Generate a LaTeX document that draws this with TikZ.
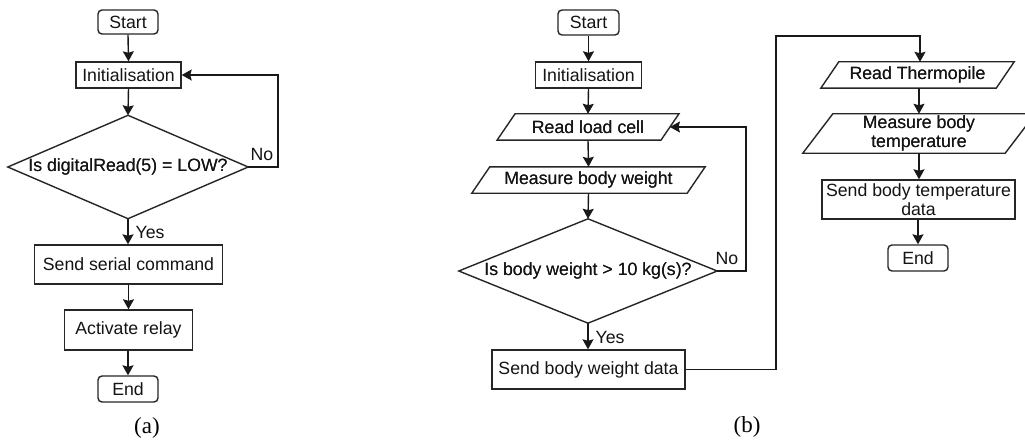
\documentclass[tikz,border=0pt]{standalone}
\usepackage{fontspec}
\setmainfont{Liberation Sans}
\newfontfamily\capfont{Liberation Serif}
\usetikzlibrary{arrows.meta,calc}

\tikzset{
  box/.style={draw=black!85, line width=1.4pt, fill=white, inner sep=0pt,
    text=black!92, font=\fontsize{17.7}{19.5}\selectfont, align=center},
  term/.style={box, rounded corners=4pt},
  hidden/.style={inner sep=0pt, text=black!92,
    font=\fontsize{17.7}{19.5}\selectfont, align=center},
  outline/.style={draw=black!85, line width=1.4pt, line join=miter},
  flow/.style={draw=black!90, line width=1.4pt,
    -{Stealth[length=10pt,width=11pt,inset=1.5pt]}},
  lbl/.style={inner sep=0pt, text=black!92, font=\fontsize{17.7}{19.5}\selectfont},
  caption/.style={inner sep=0pt, font=\capfont\fontsize{23}{25}\selectfont},
}

% parallelogram around a hidden node: #1 node name, #2 horizontal slant
\newcommand\iobox[2]{%
  \draw[outline] ($(#1.north west)+(#2/2,0)$) -- ($(#1.north east)+(#2/2,0)$)
    -- ($(#1.south east)-(#2/2,0)$) -- ($(#1.south west)-(#2/2,0)$) -- cycle;}
% diamond around a hidden node
\newcommand\decision[1]{%
  \draw[outline] (#1.north) -- (#1.east) -- (#1.south) -- (#1.west) -- cycle;}

\begin{document}
\begin{tikzpicture}[x=1pt, y=-1pt]
\useasboundingbox (0,0) rectangle (1025,441);
\clip (0,0) rectangle (1025,441);
\fill[white] (0,0) rectangle (1025,441);

% ---------------- (a) ----------------
\node[term, minimum width=60pt, minimum height=24pt] (a1) at (128,22) {Start};
\node[box, minimum width=105pt, minimum height=26pt] (a2) at (128.5,75) {Initialisation};
\node[hidden, minimum width=240pt, minimum height=103pt] (a3) at (128,167) {Is digitalRead(5) = LOW?};
\decision{a3}
\node[hidden] at (a3) {Is digitalRead(5) = LOW?};
\node[box, minimum width=188pt, minimum height=39pt] (a4) at (128.5,264.5) {Send serial command};
\node[box, minimum width=128pt, minimum height=40pt] (a5) at (128.5,330) {Activate relay};
\node[term, minimum width=60pt, minimum height=26pt] (a6) at (128,389) {End};

\draw[flow] (a1.south) -- (a2.north);
\draw[flow] (a2.south) -- (a3.north);
\draw[flow] (a3.south) -- (a4.north -| a3.south);
\draw[flow] (a4.south -| a5.north) -- (a5.north);
\draw[flow] (a5.south -| a6.north) -- (a6.north);
\coordinate (na) at (278,167);
\draw[flow] (a3.east) -- (na) |- (a2.east);
\node[lbl] (ano) at (262,154) {No};
\node[lbl] (ayes) at (150,232) {Yes};
\node[caption] (capa) at (147,428) {(a)};

% ---------------- (b) ----------------
\node[term, minimum width=61pt, minimum height=25pt] (b1) at (588.5,22.5) {Start};
\node[box, minimum width=106pt, minimum height=26pt] (b2) at (588.5,75) {Initialisation};
\node[hidden, minimum width=163.5pt, minimum height=26pt] (b3) at (588,127) {Read load cell};
\iobox{b3}{18}
\node[hidden] at (b3) {Read load cell};
\node[hidden, minimum width=215pt, minimum height=26pt] (b4) at (588.5,180) {Measure body weight};
\iobox{b4}{18}
\node[hidden] at (b4) {Measure body weight};
\node[hidden, minimum width=258pt, minimum height=104pt] (b5) at (588,271) {Is body weight > 10 kg(s)?};
\decision{b5}
\node[hidden] at (b5) {Is body weight > 10 kg(s)?};
\node[box, minimum width=193pt, minimum height=39pt] (b6) at (588.5,369.5) {Send body weight data};

\node[hidden, minimum width=175pt, minimum height=26pt] (b7) at (917.5,75) {Read Thermopile};
\iobox{b7}{18}
\node[hidden] at (b7) {Read Thermopile};
\node[hidden, minimum width=202pt, minimum height=39pt] (b8) at (919,133.5) {Measure body\\temperature};
\iobox{b8}{30}
\node[hidden] at (b8) {Measure body\\temperature};
\node[box, minimum width=193pt, minimum height=39pt] (b9) at (918.5,199.5) {Send body temperature\\data};
\node[term, minimum width=60pt, minimum height=26pt] (b10) at (918,258) {End};

\draw[flow] (b1.south) -- (b2.north);
\draw[flow] (b2.south) -- (b3.north);
\draw[flow] (b3.south) -- (b4.north);
\draw[flow] (b4.south) -- (b5.north);
\draw[flow] (b5.south) -- (b6.north -| b5.south);
\coordinate (nb) at (746,271);
\draw[flow] (b5.east) -- (nb) |- (b3.east);
\coordinate (jb) at (776,36);
\coordinate (tb) at (920,36);
\draw[flow] (b6.east) -| (jb) -- (tb) -- (tb |- b7.north);
\draw[flow] (b7.south -| 919,0) -- (b8.north);
\draw[flow] (b8.south) -- (b9.north -| b8.south);
\draw[flow] (b9.south -| b10.north) -- (b10.north);
\node[lbl] (bno) at (727,258) {No};
\node[lbl] (byes) at (610,337) {Yes};
\node[caption] (capb) at (747,427) {(b)};
\end{tikzpicture}
\end{document}
